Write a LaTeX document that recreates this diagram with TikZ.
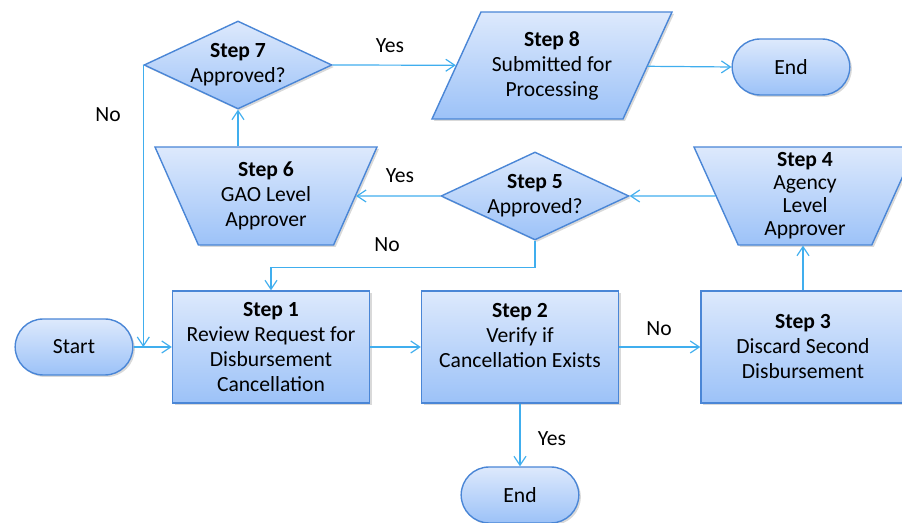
\documentclass[tikz,border=0pt]{standalone}
\usepackage{fontspec}
\setmainfont{Carlito}
\usetikzlibrary{arrows.meta,shapes.geometric,shapes.misc,shadows}
\definecolor{fcline}{HTML}{4A86D6}
\definecolor{fctop}{HTML}{DDE9FC}
\definecolor{fcbot}{HTML}{9CC2F8}
\definecolor{fcarrow}{HTML}{40AEEE}

\begin{document}
\begin{tikzpicture}[x=0.5pt, y=-0.5pt, font=\fontsize{10.8}{12.5}\selectfont,
    box/.style={draw=fcline, line width=0.7pt, top color=fctop, bottom color=fcbot, align=center,
      drop shadow={shadow xshift=1pt, shadow yshift=-1pt, opacity=0.3}},
    proc/.style={box, rectangle, minimum width=98.5pt, minimum height=56pt, inner sep=2pt},
    term/.style={box, rounded rectangle, minimum width=65.5pt, minimum height=28pt},
    decide/.style={box, diamond, aspect=2, minimum width=94pt, minimum height=44pt, inner sep=-2pt},
    manual/.style={box, trapezium, trapezium left angle=121, trapezium right angle=121,
      trapezium stretches body, minimum width=111pt, minimum height=49pt, inner sep=1pt},
    io/.style={box, trapezium, trapezium left angle=56, trapezium right angle=124,
      trapezium stretches body, minimum width=120pt, minimum height=53.5pt, inner sep=1pt},
    flow/.style={draw=fcarrow, line width=0.6pt, -{Straight Barb[length=4.5pt, width=6pt]}},
  ]
  \clip (0,0) rectangle (902,523);

  % top row
  \node[decide] (step7) at (238,65) {\textbf{Step 7}\\Approved?};
  \node[io] (step8) at (552,65.5) {\textbf{Step 8}\\Submitted for\\Processing};
  \node[term] (endtop) at (791,67) {End};

  % middle row
  \node[manual] (step6) at (266,196) {\textbf{Step 6}\\GAO Level\\Approver};
  \node[decide] (step5) at (535,196) {\textbf{Step 5}\\Approved?};
  \node[manual, trapezium left angle=116, trapezium right angle=116,
    font=\fontsize{10.8}{11.5}\selectfont] (step4) at (805,196) {\textbf{Step 4}\\Agency\\Level\\Approver};

  % bottom row
  \node[term] (start) at (74,347) {Start};
  \node[proc] (step1) at (271,347) {\textbf{Step 1}\\Review Request for\\Disbursement\\Cancellation};
  \node[proc] (step2) at (520,347) {\textbf{Step 2}\\Verify if\\Cancellation Exists\\[-5pt]\strut};
  \node[proc, minimum width=102pt] (step3) at (803,347) {\textbf{Step 3}\\Discard Second\\Disbursement};
  \node[term] (endbot) at (520,495) {End};

  % connectors
  \draw[flow] (start.east) -- (step1.west);
  \draw[flow] (step1.east) -- (step2.west);
  \draw[flow] (step2.east) -- (step3.west);
  \draw[flow] (step2.south) -- (endbot.north);
  \draw[flow] (step3.north) -- (step3.north |- step4.south);
  \draw[flow] (step4) -- (step5.east);
  \draw[flow] (step5.west) -- (step6);
  \draw[flow] (step5.south) -- ++(0,27) -| (step1.north);
  \draw[flow] (step6.north -| step7.south) -- (step7.south);
  \draw[flow] (step7.east) -- (step8);
  \draw[flow] (step8) -- (endtop.west);
  \draw[flow] (step7.west) -- (step7.west |- start.east);

  % branch labels
  \node (lyes7) at (390,46) {Yes};
  \node (lno7) at (108,115) {No};
  \node (lyes5) at (400,176) {Yes};
  \node (lno5) at (387,245) {No};
  \node (lno2) at (659,329) {No};
  \node (lyes2) at (552,439) {Yes};
\end{tikzpicture}
\end{document}
